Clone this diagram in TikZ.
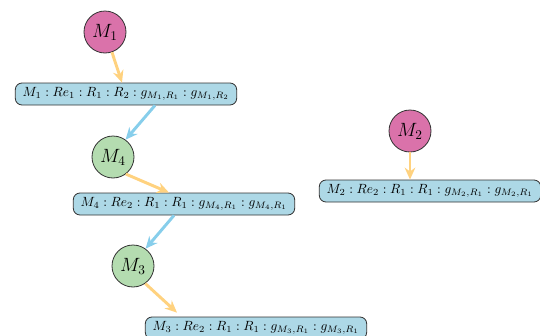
\documentclass[tikz,border=0pt]{standalone}
\usetikzlibrary{arrows.meta,calc}
\definecolor{pinkc}{RGB}{218,114,170}
\definecolor{greenc}{RGB}{180,220,176}
\definecolor{boxc}{RGB}{173,216,230}
\definecolor{orangea}{RGB}{255,210,127}
\definecolor{bluea}{RGB}{135,206,235}
\tikzset{
  mnode/.style={circle,draw=black!80,line width=0.6pt,minimum size=31.5pt,inner sep=0pt,font=\Large},
  startm/.style={mnode,fill=pinkc},
  midm/.style={mnode,fill=greenc},
  rbox/.style={rectangle,rounded corners=5pt,draw=black!80,line width=0.6pt,fill=boxc,minimum height=16.5pt,inner xsep=5.5pt,inner ysep=2pt,font=\normalsize},
  oarr/.style={draw=orangea,line width=2.2pt,-{Stealth[length=9pt,width=8pt]}},
  barr/.style={draw=bluea,line width=2.2pt,-{Stealth[length=9pt,width=8pt]}},
}
\begin{document}
\begin{tikzpicture}[x=0.75pt,y=-0.75pt]
\useasboundingbox (0,0) rectangle (540,336);
\node[startm] (m1) at (105,32) {$M_1$};
\node[rbox] (b1) at (126,94) {$M_1 : Re_1 : R_1 : R_2 : g_{M_1,R_1} : g_{M_1,R_2}$};
\node[midm] (m4) at (113,157) {$M_4$};
\node[rbox] (b4) at (184,204) {$M_4 : Re_2 : R_1 : R_1 : g_{M_4,R_1} : g_{M_4,R_1}$};
\node[midm] (m3) at (133,266) {$M_3$};
\node[rbox] (b3) at (256,328) {$M_3 : Re_2 : R_1 : R_1 : g_{M_3,R_1} : g_{M_3,R_1}$};
\node[startm] (m2) at (410,131) {$M_2$};
\node[rbox] (b2) at (430,191) {$M_2 : Re_2 : R_1 : R_1 : g_{M_2,R_1} : g_{M_2,R_1}$};

\draw[oarr] (m1.-71) -- ($(b1.north)+(-4,0)$);
\draw[barr] ($(b1.south)+(29,0)$) -- (m4.54);
\draw[oarr] (m4.-53) -- ($(b4.north)+(-15,0)$);
\draw[barr] ($(b4.south)+(-10,0)$) -- (m3.54);
\draw[oarr] (m3.-55) -- ($(b3.north)+(-79,-4)$);
\draw[oarr] (m2.south) -- ($(b2.north)+(-20,0)$);
\end{tikzpicture}
\end{document}
